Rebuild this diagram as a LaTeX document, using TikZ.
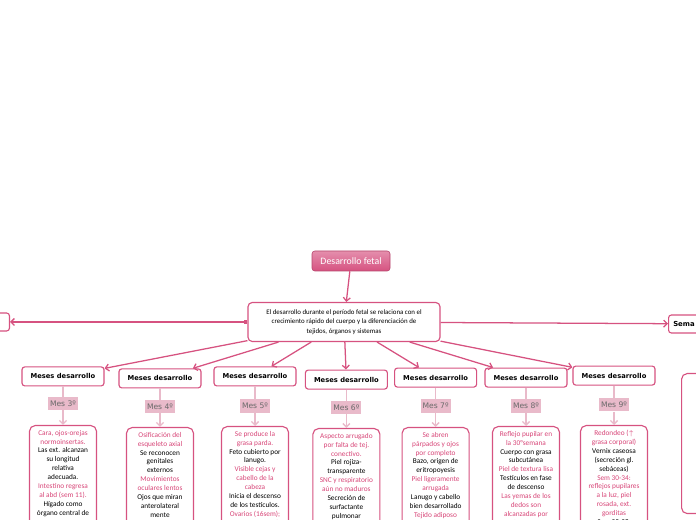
\documentclass[tikz,border=0pt]{standalone}
\usepackage{fontspec}
\setmainfont{Carlito}
\newfontfamily\dejavu{DejaVu Sans}
\usetikzlibrary{arrows.meta}
\definecolor{rosa}{RGB}{214,82,128}
\definecolor{rosatexto}{RGB}{216,70,120}
\definecolor{rosaclaro}{RGB}{233,186,202}
\definecolor{gristexto}{RGB}{105,105,105}
\newcommand{\rs}[1]{\textcolor{rosatexto}{#1}}

\begin{document}
\begin{tikzpicture}[
        titulo/.style={draw=rosa!85!black, rounded corners=2pt, top color=rosa!65, bottom color=rosa,
        text=white, minimum width=1.95cm, minimum height=0.5cm, font=\fontsize{7}{8}\selectfont},
        bloque/.style={draw=rosa, line width=0.8pt, rounded corners=3pt, fill=white, align=center,
        minimum width=4.8cm, minimum height=0.975cm, font=\fontsize{4.9}{6.6}\selectfont},
        meses/.style={draw=rosa, line width=0.8pt, rounded corners=2pt, fill=white, minimum width=2.05cm,
        minimum height=0.475cm, font=\dejavu\bfseries\fontsize{4.8}{5.5}\selectfont},
        mes/.style={fill=rosaclaro, text=gristexto, minimum width=0.75cm, minimum height=0.33cm,
        inner sep=0pt, font=\dejavu\fontsize{5.4}{6}\selectfont},
        caja/.style={draw=rosa, line width=0.8pt, rounded corners=4pt, fill=white, anchor=north,
        minimum width=1.675cm, minimum height=3.5cm},
        texto/.style={anchor=north, align=center, inner sep=0pt, font=\fontsize{5.2}{6.35}\selectfont},
        flecha/.style={rosa, line width=0.9pt, -{Straight Barb[length=2.5pt,width=5pt]}},
        enlace/.style={rosaclaro, line width=1pt},
        flechaclara/.style={rosaclaro, line width=1pt, -{Straight Barb[length=2.5pt,width=5pt]}}
    ]
        \useasboundingbox (0,0) rectangle (17.4,-13);
        \clip (0,0) rectangle (17.4,-13);

        \node[titulo] (titulo) at (8.775,-6.525) {Desarrollo fetal};
        \node[bloque] (central) at (8.6,-8.05)
        {El desarrollo durante el período fetal se relaciona con el\\
        crecimiento rápido del cuerpo y la diferenciación de\\tejidos, órganos y sistemas};
        \node[meses, anchor=east, minimum width=2cm, minimum height=0.45cm] (previo) at (0.25,-8.05) {};
        \node[meses, anchor=west, minimum height=0.45cm, text width=2.6cm, align=left,
        font=\dejavu\bfseries\fontsize{4.9}{5.5}\selectfont] (semanas) at (16.7,-8.1) {Sema};

        % meses
        \node[meses] (m3) at (1.575,-9.41) {Meses desarrollo};
        \node[meses] (m4) at (4.0,-9.46) {Meses desarrollo};
        \node[meses] (m5) at (6.375,-9.41) {Meses desarrollo};
        \node[meses] (m6) at (8.66,-9.49) {Meses desarrollo};
        \node[meses] (m7) at (10.89,-9.44) {Meses desarrollo};
        \node[meses] (m8) at (13.15,-9.44) {Meses desarrollo};
        \node[meses] (m9) at (15.35,-9.39) {Meses desarrollo};

        \node[mes] (l3) at (1.575,-10.09) {Mes 3º};
        \node[mes] (l4) at (4.0,-10.16) {Mes 4º};
        \node[mes] (l5) at (6.375,-10.15) {Mes 5º};
        \node[mes] (l6) at (8.66,-10.19) {Mes 6º};
        \node[mes] (l7) at (10.89,-10.15) {Mes 7º};
        \node[mes] (l8) at (13.15,-10.15) {Mes 8º};
        \node[mes] (l9) at (15.35,-10.12) {Mes 9º};

        \node[caja] (c3) at (1.575,-10.625) {};
        \node[caja] (c4) at (4.0,-10.675) {};
        \node[caja] (c5) at (6.375,-10.65) {};
        \node[caja] (c6) at (8.66,-10.7) {};
        \node[caja] (c7) at (10.89,-10.675) {};
        \node[caja] (c8) at (13.15,-10.65) {};
        \node[caja] (c9) at (15.35,-10.625) {};
        \node[caja, anchor=north west, minimum width=2cm] (c10) at (17.025,-9.325) {};

        \node[texto] (t3) at ([yshift=-0.12cm]c3.north)
        {\rs{Cara, ojos-orejas}\\\rs{normoinsertas.}\\Las ext. alcanzan\\su longitud\\relativa\\adecuada.\\
        \rs{Intestino regresa}\\\rs{al abd (sem 11).}\\Hígado como\\órgano central de};
        \node[texto] (t4) at ([yshift=-0.12cm]c4.north)
        {\rs{Osificación del}\\\rs{esqueleto axial}\\Se reconocen\\genitales\\externos\\
        \rs{Movimientos}\\\rs{oculares lentos}\\Ojos que miran\\anterolateral\\mente};
        \node[texto] (t5) at ([yshift=-0.12cm]c5.north)
        {\rs{Se produce la}\\\rs{grasa parda.}\\Feto cubierto por\\lanugo.\\\rs{Visible cejas y}\\
        \rs{cabello de la}\\\rs{cabeza}\\Inicia el descenso\\de los testículos.\\
        \rs{Ovarios (16sem);}\\\rs{útero y vagina (}};
        \node[texto] (t6) at ([yshift=-0.12cm]c6.north)
        {\rs{Aspecto arrugado}\\\rs{por falta de tej.}\\\rs{conectivo.}\\Piel rojiza-\\transparente\\
        \rs{SNC y respiratorio}\\\rs{aún no maduros}\\Secreción de\\surfactante\\pulmonar\\\rs{22-23 sem}};
        \node[texto] (t7) at ([yshift=-0.12cm]c7.north)
        {\rs{Se abren}\\\rs{párpados y ojos}\\\rs{por completo}\\Bazo, origen de\\eritropoyesis\\
        \rs{Piel ligeramente}\\\rs{arrugada}\\Lanugo y cabello\\bien desarrollado\\
        \rs{Tejido adiposo}\\\rs{subcutáneo y}};
        \node[texto] (t8) at ([yshift=-0.12cm]c8.north)
        {\rs{Reflejo pupilar en}\\\rs{la 30°semana}\\Cuerpo con grasa\\subcutánea\\
        \rs{Piel de textura lisa}\\Testículos en fase\\de descenso\\\rs{Las yemas de los}\\
        \rs{dedos son}\\\rs{alcanzadas por}\\\rs{las uñas}};
        \node[texto] (t9) at ([yshift=-0.12cm]c9.north)
        {\rs{Redondeo ($\uparrow$}\\\rs{grasa corporal)}\\Vernix caseosa\\(secreción gl.\\sebáceas)\\
        \rs{Sem 30-34:}\\\rs{reflejos pupilares}\\\rs{a la luz, piel}\\\rs{rosada, ext.}\\
        \rs{gorditas}\\Sem 35-38:};

        \draw[flecha] (titulo) -- (central);
        \draw[rosa, line width=0.9pt, {Square[length=2.5pt,width=2.5pt]}-{Straight Barb[length=2.5pt,width=5pt]}]
        (central) -- (previo);
        \draw[flecha] (central) -- (semanas);
        \draw[flecha] (central) -- (m3);
        \draw[flecha] (central) -- (m4);
        \draw[flecha] (central) -- (m5);
        \draw[flecha] (central) -- (m6);
        \draw[flecha] (central) -- (m7);
        \draw[flecha] (central) -- (m8);
        \draw[flecha] (central) -- (m9);

        \draw[enlace] (m3) -- (l3);
        \draw[enlace] (m4) -- (l4);
        \draw[enlace] (m5) -- (l5);
        \draw[enlace] (m6) -- (l6);
        \draw[enlace] (m7) -- (l7);
        \draw[enlace] (m8) -- (l8);
        \draw[enlace] (m9) -- (l9);
        \draw[flechaclara] (l3) -- (c3);
        \draw[flechaclara] (l4) -- (c4);
        \draw[flechaclara] (l5) -- (c5);
        \draw[flechaclara] (l6) -- (c6);
        \draw[flechaclara] (l7) -- (c7);
        \draw[flechaclara] (l8) -- (c8);
        \draw[flechaclara] (l9) -- (c9);
    \end{tikzpicture}
\end{document}
